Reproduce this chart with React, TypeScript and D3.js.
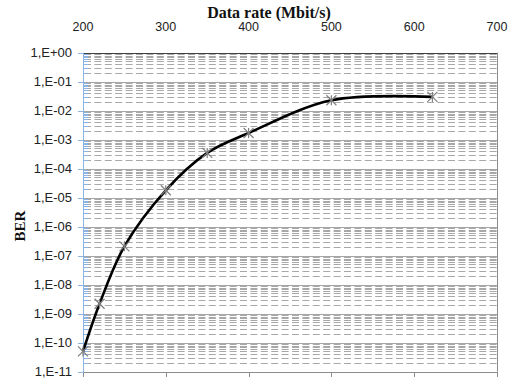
import { useEffect, useRef } from 'react';
import { select, scaleLinear, scaleLog, line, curveCatmullRom, range } from 'd3';

// Measured points (Mbit/s, BER)
const dataRate = [200, 220, 250, 300, 350, 400, 500, 622];
const ber = [5e-11, 2.2e-9, 2.1e-7, 1.8e-5, 3.5e-4, 1.7e-3, 2.3e-2, 3.0e-2];

const xTicks = [200, 300, 400, 500, 600, 700];
const yExponents = [0, -1, -2, -3, -4, -5, -6, -7, -8, -9, -10, -11];
const yTickLabels = ['1,E+00', '1,E-01', '1,E-02', '1,E-03', '1,E-04', '1,E-05', '1,E-06', '1,E-07', '1,E-08', '1,E-09', '1,E-10', '1,E-11'];

const App = () => {
    const svgRef = useRef(null);
    const width = 516;
    const height = 381;

    useEffect(() => {
        const svg = select(svgRef.current);
        svg.selectAll('*').remove();

        const left = 83, right = 497, top = 52.7, bottom = 371.7;

        const x = scaleLinear().domain([200, 700]).range([left, right]);
        const y = scaleLog().domain([1, 1e-11]).range([top, bottom]);

        const labelFont = '"Liberation Sans", Arial, sans-serif';
        const titleFont = '"Liberation Serif", "Times New Roman", serif';

        // minor grid (dashed) at 2..9 of every decade
        const minor = [];
        yExponents.slice(1).forEach(e => {
            range(2, 10).forEach(m => minor.push(m * Math.pow(10, e)));
        });
        svg.append('g')
            .selectAll('line')
            .data(minor)
            .enter().append('line')
            .attr('x1', left + 1)
            .attr('x2', right)
            .attr('y1', d => Math.round(y(d)) + 0.5)
            .attr('y2', d => Math.round(y(d)) + 0.5)
            .attr('stroke', '#a8a8a8')
            .attr('stroke-width', 1)
            .attr('stroke-dasharray', '7,3.4');

        // major grid
        svg.append('g')
            .selectAll('line')
            .data(yExponents.slice(1, -1))
            .enter().append('line')
            .attr('x1', left)
            .attr('x2', right)
            .attr('y1', d => Math.round(y(Math.pow(10, d))) + 0.5)
            .attr('y2', d => Math.round(y(Math.pow(10, d))) + 0.5)
            .attr('stroke', '#a6a6a6')
            .attr('stroke-width', 1);

        // frame: top dark, right gray, bottom axis gray
        svg.append('line')
            .attr('x1', left).attr('x2', right)
            .attr('y1', Math.round(top) + 0.5).attr('y2', Math.round(top) + 0.5)
            .attr('stroke', '#404040');
        svg.append('line')
            .attr('x1', right + 0.5).attr('x2', right + 0.5)
            .attr('y1', top).attr('y2', bottom)
            .attr('stroke', '#8c8c8c');
        svg.append('line')
            .attr('x1', left).attr('x2', right)
            .attr('y1', Math.round(bottom) + 0.5).attr('y2', Math.round(bottom) + 0.5)
            .attr('stroke', '#8c8c8c');
        svg.append('g')
            .selectAll('line')
            .data(xTicks)
            .enter().append('line')
            .attr('x1', d => Math.round(x(d)) + 0.5)
            .attr('x2', d => Math.round(x(d)) + 0.5)
            .attr('y1', Math.round(bottom))
            .attr('y2', Math.round(bottom) + 5)
            .attr('stroke', '#8c8c8c');

        // left axis (light blue) with major/minor ticks
        const axisColor = '#8db3e2';
        svg.append('line')
            .attr('x1', left + 0.5).attr('x2', left + 0.5)
            .attr('y1', top).attr('y2', bottom + 1)
            .attr('stroke', axisColor);
        svg.append('g')
            .selectAll('line')
            .data(yExponents)
            .enter().append('line')
            .attr('x1', left - 5)
            .attr('x2', left + 1)
            .attr('y1', d => Math.round(y(Math.pow(10, d))) + 0.5)
            .attr('y2', d => Math.round(y(Math.pow(10, d))) + 0.5)
            .attr('stroke', axisColor);
        svg.append('g')
            .selectAll('line')
            .data(minor)
            .enter().append('line')
            .attr('x1', left)
            .attr('x2', left + 5)
            .attr('y1', d => Math.round(y(d)) + 0.5)
            .attr('y2', d => Math.round(y(d)) + 0.5)
            .attr('stroke', axisColor);

        // y tick labels
        svg.append('g')
            .selectAll('text')
            .data(yExponents)
            .enter().append('text')
            .attr('x', 72)
            .attr('y', d => y(Math.pow(10, d)))
            .attr('dy', '0.35em')
            .attr('text-anchor', 'end')
            .attr('font-family', labelFont)
            .attr('font-size', 13)
            .attr('fill', '#222')
            .text((d, i) => yTickLabels[i]);

        // x tick labels (top)
        svg.append('g')
            .selectAll('text')
            .data(xTicks)
            .enter().append('text')
            .attr('x', d => x(d))
            .attr('y', 31)
            .attr('text-anchor', 'middle')
            .attr('font-family', labelFont)
            .attr('font-size', 12.5)
            .attr('fill', '#222')
            .text(d => d);

        // titles
        svg.append('text')
            .attr('x', 269)
            .attr('y', 18)
            .attr('text-anchor', 'middle')
            .attr('font-family', titleFont)
            .attr('font-weight', 'bold')
            .attr('font-size', 16)
            .attr('fill', '#111')
            .text('Data rate (Mbit/s)');
        svg.append('text')
            .attr('transform', 'translate(25,226) rotate(-90)')
            .attr('text-anchor', 'middle')
            .attr('font-family', titleFont)
            .attr('font-weight', 'bold')
            .attr('font-size', 15)
            .attr('fill', '#111')
            .text('BER');

        // curve
        const pts = dataRate.map((d, i) => [d, ber[i]]);
        const path = line()
            .x(d => x(d[0]))
            .y(d => y(d[1]))
            .curve(curveCatmullRom.alpha(0.5));
        svg.append('path')
            .attr('d', path(pts))
            .attr('fill', 'none')
            .attr('stroke', '#000')
            .attr('stroke-width', 2.6);

        // star markers
        const r = 5;
        const markers = svg.append('g')
            .selectAll('g')
            .data(pts)
            .enter().append('g')
            .attr('transform', d => `translate(${x(d[0])},${y(d[1])})`)
            .attr('stroke', '#7f7f7f')
            .attr('stroke-width', 1.2);
        markers.append('line').attr('x1', -r).attr('y1', -r).attr('x2', r).attr('y2', r);
        markers.append('line').attr('x1', -r).attr('y1', r).attr('x2', r).attr('y2', -r);
        markers.append('line').attr('x1', 0).attr('y1', -r).attr('x2', 0).attr('y2', r);
    }, []);

    return (
        <svg ref={svgRef} width={width} height={height}
            style={{ position: 'absolute', left: 0, top: 0, background: '#fff' }} />
    );
};

export default App;
